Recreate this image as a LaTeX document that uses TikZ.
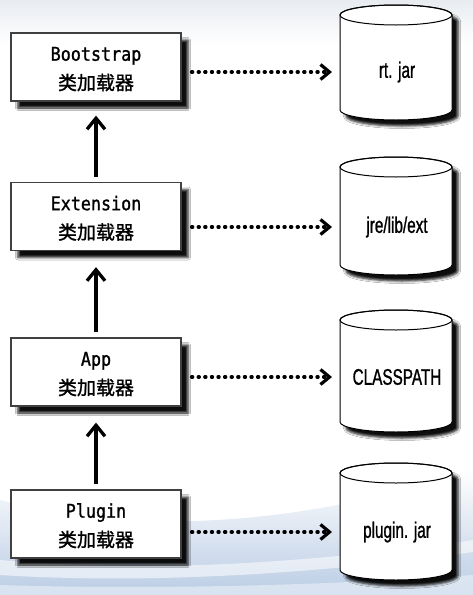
\documentclass[tikz,border=0pt]{standalone}
\usepackage{fontspec}
\newfontfamily\cjk[FakeBold=1.2]{Noto Sans CJK SC}
\newfontfamily\monof[FakeStretch=0.88,FakeBold=1.2]{DejaVu Sans Mono}
\newfontfamily\narrowf[FakeStretch=0.68,FakeBold=1]{Liberation Sans}
\usetikzlibrary{shadows.blur,arrows.meta}
\definecolor{bgtop}{RGB}{232,236,241}
\definecolor{bgblue}{RGB}{186,204,228}
\definecolor{bgpale}{RGB}{236,242,249}
\begin{document}
\begin{tikzpicture}[x=1pt,y=-1pt,
  loader/.style={draw=black!75, line width=1.3pt, fill=white,
    minimum width=170pt, minimum height=68pt, inner sep=0pt, align=center,
    blur shadow={shadow xshift=7pt, shadow yshift=-7pt, shadow opacity=95, shadow blur steps=4, shadow blur radius=2.5pt},
    font=\fontsize{19}{29}\selectfont},
  drum/.style={draw=black, line width=1pt, fill=white,
    blur shadow={shadow xshift=6pt, shadow yshift=-6pt, shadow opacity=95, shadow blur steps=4, shadow blur radius=2.5pt}},
  storelabel/.style={font=\narrowf\fontsize{22.5}{24}\selectfont, inner sep=0pt},
  dep/.style={line width=3.3pt, -{Straight Barb[length=11pt, width=18pt, line width=3.3pt]}},
  use/.style={line width=3.4pt, line cap=round, dash pattern=on 1pt off 5.6pt,
    -{Straight Barb[length=9pt, width=15pt, line width=3.2pt]}}
]
\useasboundingbox (0,0) rectangle (473,595);
% background
\fill[white] (0,0) rectangle (473,595);
\shade[top color=bgtop, bottom color=white] (0,0) rectangle (473,45);
\shade[top color=white, bottom color=bgblue]
  (0,500) .. controls (150,540) and (320,520) .. (473,470) -- (473,595) -- (0,595) -- cycle;
\fill[white, opacity=0.55] (0,560) .. controls (160,575) and (330,560) .. (473,540)
  -- (473,552) .. controls (330,572) and (160,585) .. (0,575) -- cycle;
\fill[bgpale, opacity=0.6] (0,585) .. controls (160,590) and (330,585) .. (473,575) -- (473,595) -- (0,595) -- cycle;

% class loaders
\node[loader] (boot) at (96,67) {\rule{0pt}{18pt}{\monof Bootstrap}\\{\cjk 类加载器}};
\node[loader] (ext) at (96,216.5) {\rule{0pt}{18pt}{\monof Extension}\\{\cjk 类加载器}};
\node[loader] (app) at (96,372) {\rule{0pt}{18pt}{\monof App}\\{\cjk 类加载器}};
\node[loader] (plug) at (96,524) {\rule{0pt}{18pt}{\monof Plugin}\\{\cjk 类加载器}};

% stores (cylinders): top y, bottom y
\foreach \ty/\by in {5/120, 157/275, 310/432, 463/580}{
  \path[drum] (340,\ty+10) -- (340,\by-10)
    arc[start angle=180, end angle=0, x radius=56, y radius=10]
    -- (452,\ty+10) arc[start angle=0, end angle=-180, x radius=56, y radius=10] -- cycle;
  \draw[line width=1pt] (396,\ty+10) ellipse[x radius=56, y radius=10];
}
\node[storelabel] (t1) at (397,72) {rt. jar};
\node[storelabel] (t2) at (397,227) {jre/lib/ext};
\node[storelabel] (t3) at (397,377) {CLASSPATH};
\node[storelabel] (t4) at (397,532) {plugin. jar};
\coordinate (c1) at (340,72);
\coordinate (c2) at (340,227);
\coordinate (c3) at (340,377);
\coordinate (c4) at (340,532);

% delegation arrows
\draw[dep, shorten <=5pt, shorten >=14pt] (ext.north) -- (boot.south);
\draw[dep, shorten <=5pt, shorten >=16pt] (app.north) -- (ext.south);
\draw[dep, shorten <=5pt, shorten >=16pt] (plug.north) -- (app.south);

% loading arrows
\draw[use, shorten <=10pt, shorten >=8pt] (boot.east |- t1) -- (c1);
\draw[use, shorten <=10pt, shorten >=8pt] (ext.east |- t2) -- (c2);
\draw[use, shorten <=10pt, shorten >=8pt] (app.east |- t3) -- (c3);
\draw[use, shorten <=10pt, shorten >=8pt] (plug.east |- t4) -- (c4);
\end{tikzpicture}
\end{document}
